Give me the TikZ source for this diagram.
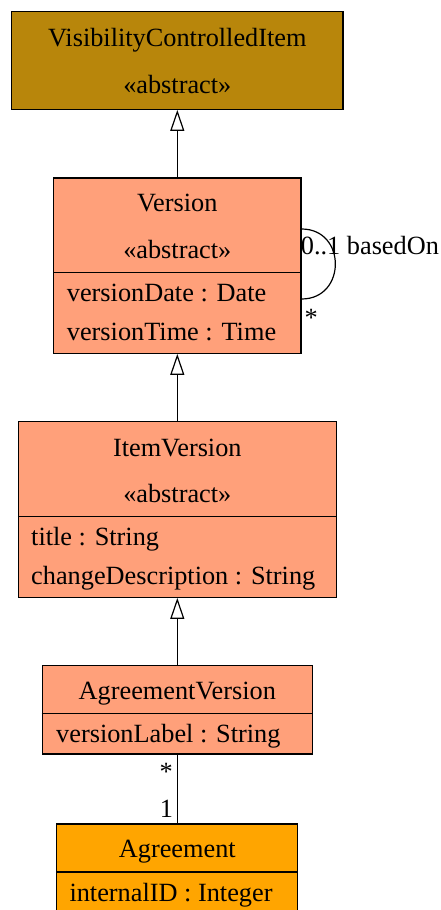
\documentclass[tikz,border=0pt]{standalone}
\usepackage{fontspec}
\setmainfont{Liberation Serif}
\usetikzlibrary{arrows.meta,calc}
\definecolor{goldc}{HTML}{B8860B}
\definecolor{salmonc}{HTML}{FFA07A}
\definecolor{orangec}{HTML}{FFA500}
\tikzset{
  umlbox/.style={draw=black, line width=1.2pt, rectangle, inner sep=0pt, anchor=north},
  txt/.style={inner sep=0pt, font=\fontsize{26.3}{30}\selectfont},
  hdr/.style={txt, anchor=base},
  attr/.style={txt, anchor=base west},
  conn/.style={line width=1.2pt},
  inh/.style={conn, -{Triangle[open, length=21pt, width=14pt, fill=white]}},
}
\begin{document}
\begin{tikzpicture}[x=1pt, y=-1pt]
\clip (0,0) rectangle (440,910);
\fill[white] (0,0) rectangle (440,910);

% VisibilityControlledItem
\node[umlbox, fill=goldc, minimum width=331.3pt, minimum height=97.7pt] (vci) at (177.3,11) {};
\node[hdr] (vcin) at (177.3,46) {VisibilityControlledItem};
\node[hdr] (vcis) at (177.3,93) {«abstract»};

% Version
\node[umlbox, fill=salmonc, minimum width=247.4pt, minimum height=175.4pt] (ver) at (177.3,177.3) {};
\node[hdr] (vern) at (177.3,211.7) {Version};
\node[hdr] (vers) at (177.3,258.3) {«abstract»};
\draw[conn] (ver.west |- 0,272.7) coordinate (verdl) -- (ver.east |- 0,272.7) coordinate (verdr);
\node[attr] (vera1) at (66.7,301) {versionDate : Date};
\node[attr] (vera2) at (66.7,340) {versionTime : Time};

% ItemVersion
\node[umlbox, fill=salmonc, minimum width=317.7pt, minimum height=175.7pt] (itv) at (177.3,421) {};
\node[hdr] (itvn) at (177.3,456) {ItemVersion};
\node[hdr] (itvs) at (177.3,502.3) {«abstract»};
\draw[conn] (itv.west |- 0,516.7) coordinate (itvdl) -- (itv.east |- 0,516.7) coordinate (itvdr);
\node[attr] (itva1) at (31,545.7) {title : String};
\node[attr] (itva2) at (31,584.3) {changeDescription : String};

% AgreementVersion
\node[umlbox, fill=salmonc, minimum width=270.4pt, minimum height=88.3pt] (agv) at (177.3,665) {};
\node[hdr] (agvn) at (177.3,699.3) {AgreementVersion};
\draw[conn] (agv.west |- 0,713.3) coordinate (agvdl) -- (agv.east |- 0,713.3) coordinate (agvdr);
\node[attr] (agva1) at (56,742.7) {versionLabel : String};

% Agreement
\node[umlbox, fill=orangec, minimum width=241pt, minimum height=110pt] (agr) at (177.3,823.3) {};
\node[hdr] (agrn) at (177.3,857.7) {Agreement};
\draw[conn] (agr.west |- 0,872) coordinate (agrdl) -- (agr.east |- 0,872) coordinate (agrdr);
\node[attr] (agra1) at (69.3,901) {internalID : Integer};

% Generalizations
\draw[inh] (ver.north) -- (vci.south);
\draw[inh] (itv.north) -- (ver.south);
\draw[inh] (agv.north) -- (itv.south);

% Association AgreementVersion -- Agreement
\draw[conn] (agv.south) -- (agr.north);
\node[txt, anchor=base east] (m1) at (173,780) {*};
\node[txt, anchor=base east] (m2) at (173.3,817) {1};

% Self association basedOn
\coordinate (ls) at ([yshift=-51.7pt]ver.north east);
\coordinate (le) at ([yshift=-121.7pt]ver.north east);
\draw[conn] (ls) .. controls +(45pt,0pt) and +(45pt,0pt) .. (le);
\node[txt, anchor=base west] (bo) at (300.7,254) {0..1 basedOn};
\node[txt, anchor=base west] (bs) at (304.5,326) {*};
\end{tikzpicture}
\end{document}
